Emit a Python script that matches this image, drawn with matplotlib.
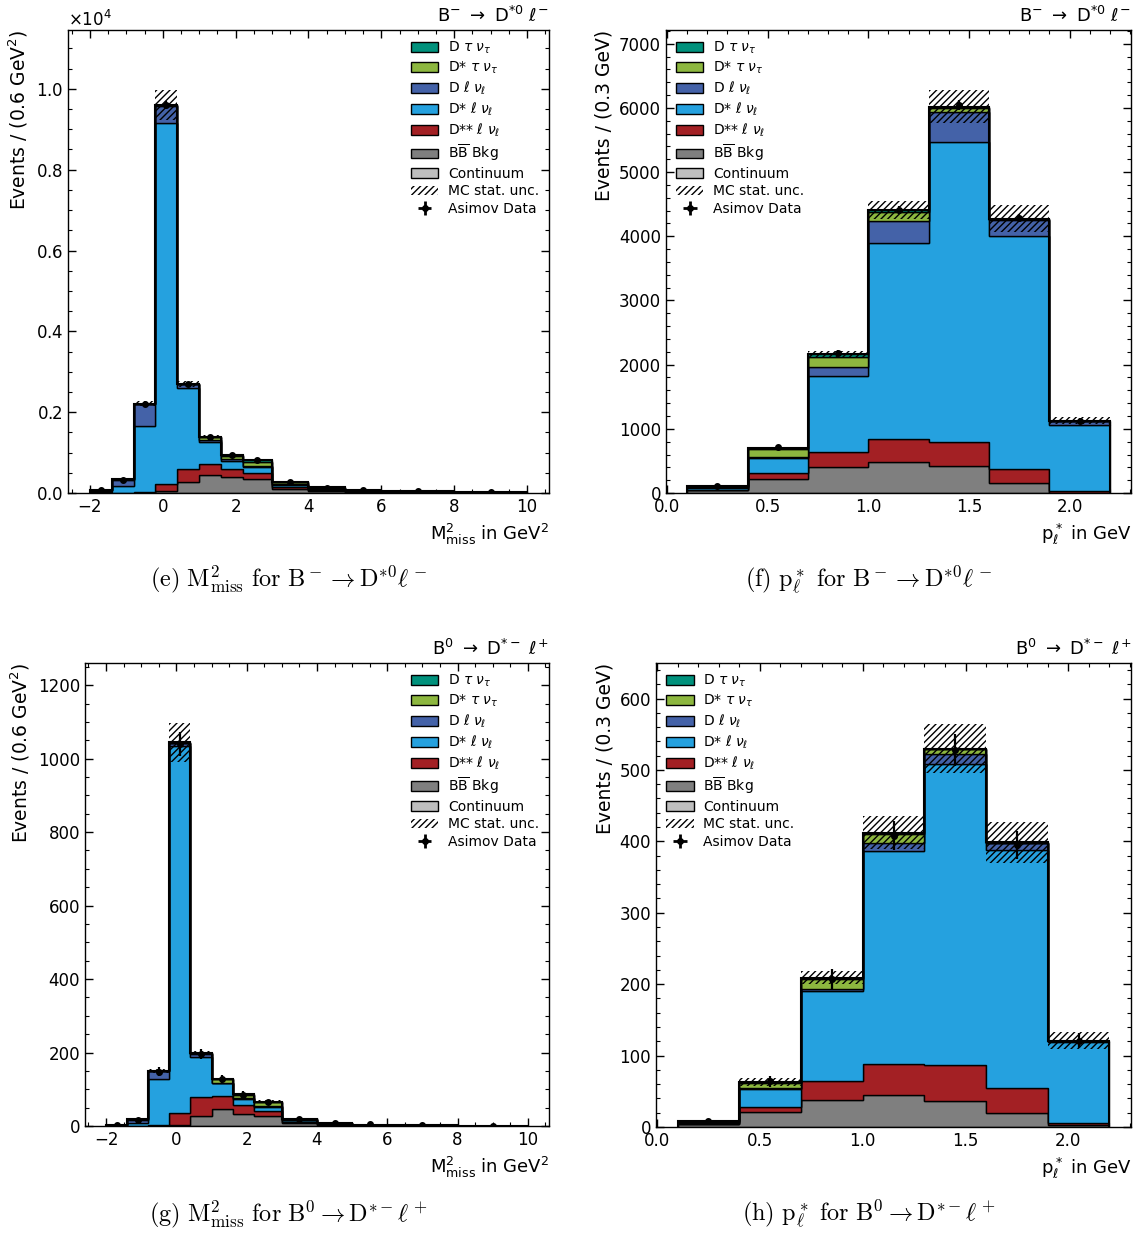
import numpy as np
import matplotlib
matplotlib.use("Agg")
import matplotlib.pyplot as plt
from matplotlib.patches import Patch
from matplotlib.ticker import AutoMinorLocator

# ---------------- binning ----------------
mm2_edges = [-2.0, -1.4, -0.8, -0.2, 0.4, 1.0, 1.6, 2.2, 3.0, 4.0, 5.0, 6.0, 8.0, 10.0]
pl_edges = [0.1, 0.4, 0.7, 1.0, 1.3, 1.6, 1.9, 2.2]

# ---------------- B- -> D*0 l-, M_miss^2 ----------------
e_cont = [0, 0, 0, 0, 0, 0, 0, 0, 0, 0, 0, 0, 0]
e_bb = [20, 5, 10, 60, 270, 440, 395, 355, 110, 55, 28, 16, 8]
e_dss = [5, 5, 10, 170, 330, 270, 200, 130, 30, 15, 8, 4, 2]
e_dsl = [20, 160, 1640, 8935, 1990, 560, 205, 160, 50, 25, 12, 7, 3]
e_dl = [20, 160, 535, 420, 100, 50, 30, 25, 35, 20, 10, 6, 2]
e_dstau = [5, 5, 10, 10, 8, 60, 90, 110, 40, 18, 9, 5, 2]
e_dtau = [5, 5, 5, 5, 2, 15, 20, 35, 15, 7, 3, 2, 1]
e_unc = [10, 25, 55, 360, 70, 30, 25, 30, 20, 12, 8, 5, 3]
e_data = [70, 320, 2200, 9600, 2700, 1390, 935, 810, 285, 135, 70, 40, 18]

# ---------------- B- -> D*0 l-, p_l* ----------------
f_cont = [0, 0, 0, 0, 0, 0, 0]
f_bb = [40, 225, 410, 490, 420, 160, 5]
f_dss = [5, 80, 225, 355, 375, 210, 25]
f_dsl = [30, 235, 1190, 3050, 4675, 3630, 1030]
f_dl = [25, 25, 136, 348, 470, 255, 55]
f_dstau = [10, 115, 165, 136, 60, 15, 10]
f_dtau = [5, 25, 38, 36, 17, 5, 3]
f_unc = [8, 15, 55, 140, 255, 210, 50]
f_data = [115, 710, 2180, 4410, 6040, 4280, 1130]

# ---------------- B0 -> D*- l+, M_miss^2 ----------------
g_cont = [0, 0, 0, 0, 0, 0, 0, 0, 0, 0, 0, 0, 0]
g_bb = [1, 0.5, 1, 2, 28, 45, 33, 27, 9, 4, 2, 1, 0.5]
g_dss = [0.5, 0.5, 1, 33, 52, 38, 23, 14, 3, 1.5, 0.5, 0.3, 0.15]
g_dsl = [1, 8, 126, 1000, 109, 33, 18, 12, 3, 1.5, 0.7, 0.3, 0.15]
g_dl = [1, 8.5, 21, 8, 7, 2, 1.5, 2, 2, 1, 0.4, 0.2, 0.1]
g_dstau = [0.3, 0.3, 0.7, 0.7, 1.5, 9, 9.5, 9, 2.5, 0.8, 0.3, 0.15, 0.07]
g_dtau = [0.2, 0.2, 0.3, 0.3, 0.5, 1, 1, 2, 0.5, 0.2, 0.1, 0.05, 0.03]
g_unc = [1, 2, 6, 52, 6, 4, 4, 4, 2, 1, 1, 0.5, 0.3]
g_data = [3, 16, 148, 1040, 196, 127, 85, 64, 18, 9, 5, 3, 1]

# ---------------- B0 -> D*- l+, p_l* ----------------
h_cont = [0, 0, 0, 0, 0, 0, 0]
h_bb = [4, 21, 38, 45, 37, 20, 2.5]
h_dss = [0.5, 7, 26, 43, 50, 34, 3.5]
h_dsl = [1.5, 25, 126, 299, 421, 334, 113]
h_dl = [1, 1, 3, 11, 15, 9, 1.5]
h_dstau = [0.7, 8, 14, 12, 6, 1, 0.3]
h_dtau = [0.3, 1, 2, 2, 1, 0.5, 0.2]
h_unc = [1, 5, 9, 23, 35, 29, 11.5]
h_data = [8, 64, 207, 408, 528, 395, 121]

labels = [r"D $\tau$ $\nu_\tau$", r"D* $\tau$ $\nu_\tau$", r"D $\ell$ $\nu_\ell$",
          r"D* $\ell$ $\nu_\ell$", r"D** $\ell$ $\nu_\ell$", r"B$\overline{\rm B}$ Bkg",
          "Continuum"]
colors = ["#00917c", "#8db73f", "#4462a8", "#25a1df", "#a32024", "#7f7f7f", "#bebebe"]

panels = [
    dict(pos=[0.0597, 0.6011, 0.4223, 0.3746], edges=mm2_edges,
         comps=[e_cont, e_bb, e_dss, e_dsl, e_dl, e_dstau, e_dtau], unc=e_unc, data=e_data,
         title=r"B$^{-}$ $\rightarrow$ D$^{*0}$ $\ell^{-}$",
         xlabel=r"M$^2_{\rm miss}$ in GeV$^2$", ylabel=r"Events / (0.6 GeV$^2$)", sci=True,
         leg="upper right",
         caption=r"$(\mathrm{e})\ \mathrm{M}^2_{\mathrm{miss}}\ \mathrm{for}\ \mathrm{B}^-\rightarrow\mathrm{D}^{*0}\ell^-$",
         cap_xy=(0.253, 0.531)),
    dict(pos=[0.5847, 0.6011, 0.4083, 0.3746], edges=pl_edges,
         comps=[f_cont, f_bb, f_dss, f_dsl, f_dl, f_dstau, f_dtau], unc=f_unc, data=f_data,
         title=r"B$^{-}$ $\rightarrow$ D$^{*0}$ $\ell^{-}$",
         xlabel=r"p$^*_\ell$ in GeV", ylabel="Events / (0.3 GeV)", sci=False,
         leg="upper left",
         caption=r"$(\mathrm{f})\ \mathrm{p}^*_\ell\ \mathrm{for}\ \mathrm{B}^-\rightarrow\mathrm{D}^{*0}\ell^-$",
         cap_xy=(0.763, 0.531)),
    dict(pos=[0.0746, 0.0890, 0.4074, 0.3746], edges=mm2_edges,
         comps=[g_cont, g_bb, g_dss, g_dsl, g_dl, g_dstau, g_dtau], unc=g_unc, data=g_data,
         title=r"B$^{0}$ $\rightarrow$ D$^{*-}$ $\ell^{+}$",
         xlabel=r"M$^2_{\rm miss}$ in GeV$^2$", ylabel=r"Events / (0.6 GeV$^2$)", sci=False,
         leg="upper right",
         caption=r"$(\mathrm{g})\ \mathrm{M}^2_{\mathrm{miss}}\ \mathrm{for}\ \mathrm{B}^0\rightarrow\mathrm{D}^{*-}\ell^+$",
         cap_xy=(0.253, 0.018)),
    dict(pos=[0.5760, 0.0882, 0.4170, 0.3754], edges=pl_edges,
         comps=[h_cont, h_bb, h_dss, h_dsl, h_dl, h_dstau, h_dtau], unc=h_unc, data=h_data,
         title=r"B$^{0}$ $\rightarrow$ D$^{*-}$ $\ell^{+}$",
         xlabel=r"p$^*_\ell$ in GeV", ylabel="Events / (0.3 GeV)", sci=False,
         leg="upper left",
         caption=r"$(\mathrm{h})\ \mathrm{p}^*_\ell\ \mathrm{for}\ \mathrm{B}^0\rightarrow\mathrm{D}^{*-}\ell^+$",
         cap_xy=(0.763, 0.018)),
]

# stacking order from bottom to top
stack_colors = colors[::-1]

fig = plt.figure(figsize=(11.39, 12.36), dpi=100)

for p in panels:
    ax = fig.add_axes(p["pos"])
    edges = np.array(p["edges"])
    centers = 0.5 * (edges[1:] + edges[:-1])
    bottom = np.zeros(len(edges) - 1)
    for vals, col in zip(p["comps"], stack_colors):
        top = bottom + np.array(vals, dtype=float)
        if np.any(top > bottom):
            ax.stairs(top, edges, baseline=bottom, fill=True, facecolor=col,
                      edgecolor="k", linewidth=1.0, zorder=2)
        bottom = top
    total = bottom
    ax.stairs(total, edges, baseline=0, fill=False, color="k", linewidth=1.5, zorder=3)
    unc = np.array(p["unc"], dtype=float)
    ax.stairs(total + unc, edges, baseline=total - unc, fill=True, facecolor="none",
              edgecolor="k", hatch="/////", linewidth=0, zorder=4)
    data = np.array(p["data"], dtype=float)
    ax.errorbar(centers, data, yerr=np.sqrt(data), fmt="o", color="k", ms=4,
                elinewidth=1.6, capsize=0, zorder=5)

    span = edges[-1] - edges[0]
    ax.set_xlim(edges[0] - 0.05 * span, edges[-1] + 0.05 * span)
    ax.set_ylim(0, 1.15 * np.max(total + unc))

    ax.tick_params(which="both", direction="in", top=True, right=True, labelsize=12)
    ax.tick_params(which="major", length=6, width=1.0)
    ax.tick_params(which="minor", length=3, width=0.8)
    ax.xaxis.set_minor_locator(AutoMinorLocator())
    ax.yaxis.set_minor_locator(AutoMinorLocator())
    if p["sci"]:
        ax.ticklabel_format(axis="y", style="sci", scilimits=(0, 0), useMathText=True)
        ax.yaxis.get_offset_text().set_fontsize(12)
    for s in ax.spines.values():
        s.set_linewidth(1.0)

    ax.set_title(p["title"], loc="right", fontsize=13, pad=6)
    ax.set_xlabel(p["xlabel"], loc="right", fontsize=13)
    ax.set_ylabel(p["ylabel"], loc="top", fontsize=13.5)

    handles = [Patch(facecolor=c, edgecolor="k", linewidth=1.0) for c in colors]
    handles.append(Patch(facecolor="none", edgecolor="k", hatch="/////", linewidth=0))
    dummy = ax.errorbar([np.nan], [np.nan], xerr=[[1]], yerr=[[1]], fmt="o", color="k",
                        ms=4, elinewidth=2.0, capsize=0)
    handles.append(dummy)
    ax.legend(handles, labels + ["MC stat. unc.", "Asimov Data"], loc=p["leg"],
              frameon=False, fontsize=10, labelspacing=0.26, handletextpad=0.7,
              borderaxespad=0.3)

    fig.text(p["cap_xy"][0], p["cap_xy"][1], p["caption"], ha="center", va="center",
             fontsize=17.5, math_fontfamily="cm")

fig.savefig("out.png", dpi=100)
